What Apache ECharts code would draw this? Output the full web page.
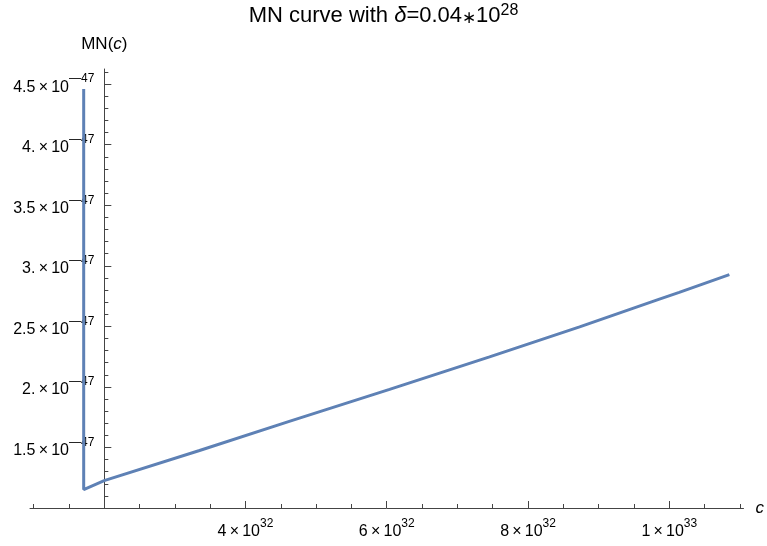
<!DOCTYPE html>
<html>
<head>
<meta charset="utf-8">
<script src="https://cdn.jsdelivr.net/npm/echarts@6/dist/echarts.min.js"></script>
<style>html,body{margin:0;padding:0;background:#fff}#chart{width:767px;height:546px}</style>
</head>
<body>
<div id="chart"></div>
<script>
// c values in units of 10^32, MN(c) values in units of 10^-47
const cValues  = [1.71, 1.71, 2.0, 3.35, 4.62, 6.04, 7.455, 8.73, 9.86, 10.14, 10.85];
const mnValues = [4.46, 1.152, 1.226, 1.475, 1.715, 1.979, 2.248, 2.495, 2.725, 2.78, 2.927];

const xMajorTicks = [4, 6, 8, 10];
const xMinorTicks = [1, 1.5, 2.5, 3, 3.5, 4.5, 5, 5.5, 6.5, 7, 7.5, 8.5, 9, 9.5, 10.5, 11];
const xTickLabels = {4: ['4', '32'], 6: ['6', '32'], 8: ['8', '32'], 10: ['1', '33']};

const yMajorTicks = [1.5, 2, 2.5, 3, 3.5, 4, 4.5];
const yMinorTicks = [1.1, 1.2, 1.3, 1.4, 1.6, 1.7, 1.8, 1.9, 2.1, 2.2, 2.3, 2.4, 2.6, 2.7, 2.8, 2.9,
                     3.1, 3.2, 3.3, 3.4, 3.6, 3.7, 3.8, 3.9, 4.1, 4.2, 4.3, 4.4, 4.6];
const yTickLabels = {1.5: '1.5', 2: '2.', 2.5: '2.5', 3: '3.', 3.5: '3.5', 4: '4.', 4.5: '4.5'};
const yExponent = '\u201447';

const FONT = '"Liberation Sans", Arial, sans-serif';
const AX = '#444';

const rich = {
  b: {fontFamily: FONT, fontSize: 16, color: '#000', lineHeight: 22, verticalAlign: 'bottom'},
  s: {fontFamily: FONT, fontSize: 12, color: '#000', lineHeight: 16, verticalAlign: 'top'}
};
const TIMES = '\u2009\u00d7\u2009';

const chart = echarts.init(document.getElementById('chart'), null, {renderer: 'canvas'});
const data = cValues.map((c, i) => [c, mnValues[i]]);

const xmin = 0.95, xmax = 11.05, ymin = 1.0, ymax = 4.625;
const gridLeft = 30, gridRight = 22, gridTop = 69, gridBottom = 38;
const pxPerX = (767 - gridLeft - gridRight) / (xmax - xmin);
const yOffset = -(2 - xmin) * pxPerX;

chart.setOption({
  animation: false,
  backgroundColor: '#fff',
  title: {
    text: '{t|MN curve with }{i|\u03b4}{t|=0.04}{a|\u2217}{t|10}{s|28}',
    left: 'center', top: 3, padding: 0,
    textStyle: {
      fontWeight: 'normal',
      rich: {
        t: {fontFamily: FONT, fontSize: 22, fontWeight: 'normal', color: '#000', lineHeight: 24, verticalAlign: 'bottom'},
        a: {fontFamily: FONT, fontSize: 17, fontWeight: 'normal', color: '#000', lineHeight: 24, verticalAlign: 'bottom'},
        i: {fontFamily: FONT, fontSize: 22, fontWeight: 'normal', fontStyle: 'italic', color: '#000', lineHeight: 24, verticalAlign: 'bottom'},
        s: {fontFamily: FONT, fontSize: 16, fontWeight: 'normal', color: '#000', lineHeight: 19, verticalAlign: 'top'}
      }
    }
  },
  grid: {left: gridLeft, right: gridRight, top: gridTop, bottom: gridBottom, containLabel: false},
  xAxis: [
    {
      type: 'value', position: 'bottom', min: xmin, max: xmax,
      name: 'c', nameLocation: 'end', nameGap: 12,
      nameTextStyle: {fontFamily: FONT, fontSize: 17, fontStyle: 'italic', color: '#000', verticalAlign: 'middle'},
      axisLine: {show: true, lineStyle: {color: AX, width: 1}},
      axisTick: {show: true, inside: true, length: 7, customValues: xMajorTicks, lineStyle: {color: AX, width: 1}},
      axisLabel: {
        show: true, margin: 10, customValues: xMajorTicks,
        formatter: v => { const l = xTickLabels[v]; return l ? '{b|' + l[0] + TIMES + '10}{s|' + l[1] + '}' : ''; },
        rich: rich
      },
      splitLine: {show: false}
    },
    {
      type: 'value', position: 'bottom', min: xmin, max: xmax,
      axisLine: {show: false},
      axisTick: {show: true, inside: true, length: 4, customValues: xMinorTicks, lineStyle: {color: AX, width: 1}},
      axisLabel: {show: false},
      splitLine: {show: false}
    }
  ],
  yAxis: [
    {
      type: 'value', position: 'left', min: ymin, max: ymax, offset: yOffset,
      name: '{n|MN(}{c|c}{n|)}', nameLocation: 'end', nameGap: 16,
      nameTextStyle: {
        rich: {
          n: {fontFamily: FONT, fontSize: 17, color: '#000'},
          c: {fontFamily: FONT, fontSize: 17, fontStyle: 'italic', color: '#000'}
        }
      },
      axisLine: {show: true, lineStyle: {color: AX, width: 1}},
      axisTick: {show: true, inside: true, length: 7, customValues: yMajorTicks, lineStyle: {color: AX, width: 1}},
      axisLabel: {
        show: true, margin: 10, customValues: yMajorTicks,
        formatter: v => { const l = yTickLabels[v]; return l ? '{b|' + l + TIMES + '10}{s|' + yExponent + '}' : ''; },
        rich: rich
      },
      splitLine: {show: false}
    },
    {
      type: 'value', position: 'left', min: ymin, max: ymax, offset: yOffset,
      axisLine: {show: false},
      axisTick: {show: true, inside: true, length: 4, customValues: yMinorTicks, lineStyle: {color: AX, width: 1}},
      axisLabel: {show: false},
      splitLine: {show: false}
    }
  ],
  series: [{
    type: 'line', xAxisIndex: 0, yAxisIndex: 0,
    data: data, showSymbol: false, smooth: false,
    lineStyle: {color: '#5E81B5', width: 3},
    emphasis: {disabled: true}
  }]
});
</script>
</body>
</html>
